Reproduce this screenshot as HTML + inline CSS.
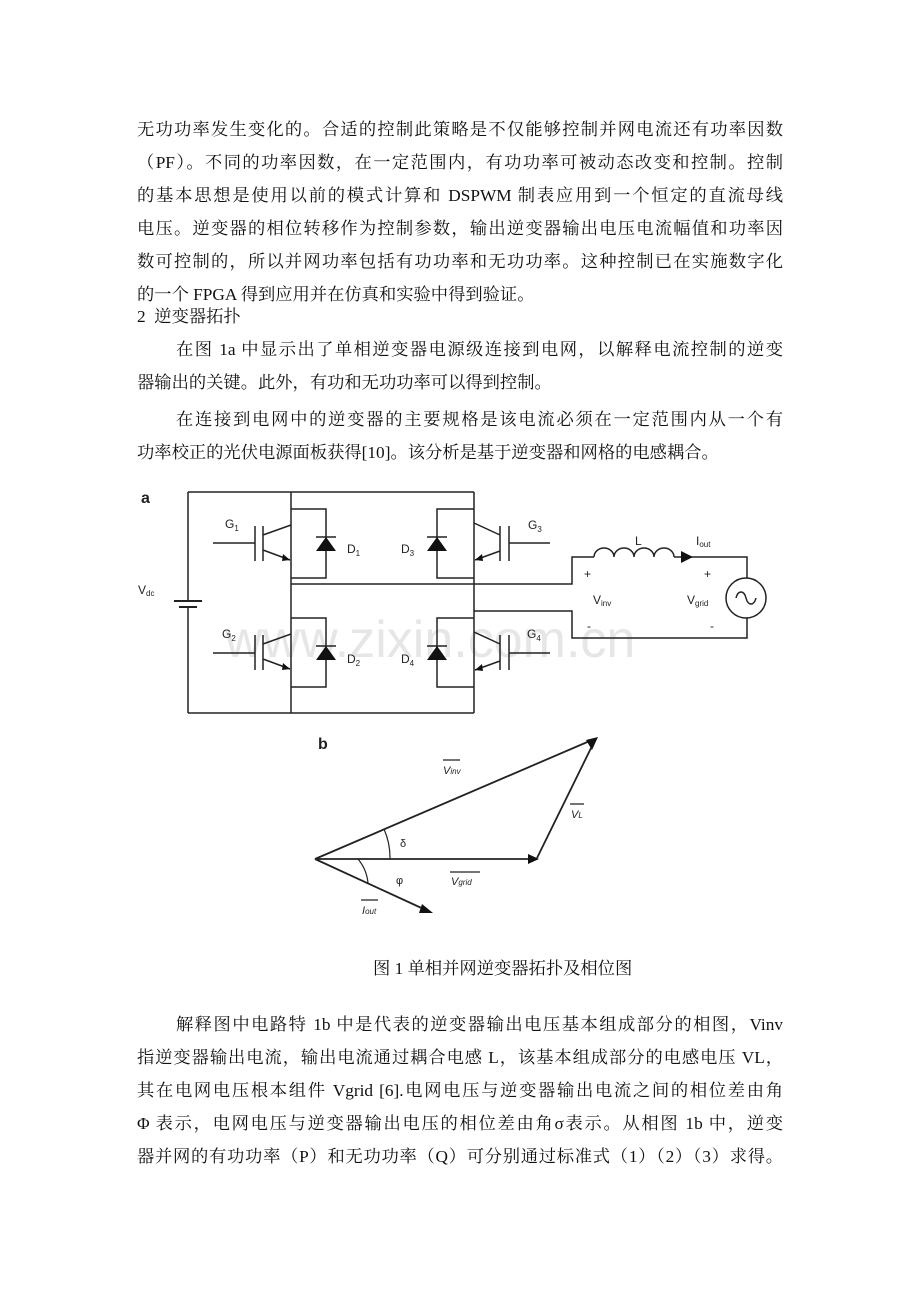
<!DOCTYPE html>
<html><head><meta charset="utf-8"><style>
body{margin:0;background:#fff;}
#p{position:relative;width:920px;height:1302px;overflow:hidden;background:#fff;}
.t{position:absolute;font-family:"Liberation Serif","Noto Serif CJK SC",serif;font-size:17.3px;line-height:24px;height:24px;color:#111;white-space:nowrap;}
.j{text-align:justify;text-align-last:justify;white-space:normal;overflow:hidden;}
svg text{font-family:"Liberation Sans",Arial,sans-serif;}
</style></head><body><div id="p">
<div class="t j" style="left:137px;top:118px;width:646px">无功功率发生变化的。合适的控制此策略是不仅能够控制并网电流还有功率因数</div>
<div class="t j" style="left:137px;top:151px;width:646px">（PF）。不同的功率因数，在一定范围内，有功功率可被动态改变和控制。控制</div>
<div class="t j" style="left:137px;top:184px;width:646px">的基本思想是使用以前的模式计算和 DSPWM 制表应用到一个恒定的直流母线</div>
<div class="t j" style="left:137px;top:217px;width:646px">电压。逆变器的相位转移作为控制参数，输出逆变器输出电压电流幅值和功率因</div>
<div class="t j" style="left:137px;top:250px;width:646px">数可控制的，所以并网功率包括有功功率和无功功率。这种控制已在实施数字化</div>
<div class="t" style="left:137px;top:283px">的一个 FPGA 得到应用并在仿真和实验中得到验证。</div>
<div class="t" style="left:137px;top:305px">2 &nbsp;逆变器拓扑</div>
<div class="t j" style="left:176px;top:338px;width:607px">在图 1a 中显示出了单相逆变器电源级连接到电网，以解释电流控制的逆变</div>
<div class="t" style="left:137px;top:371px">器输出的关键。此外，有功和无功功率可以得到控制。</div>
<div class="t j" style="left:176px;top:408px;width:607px">在连接到电网中的逆变器的主要规格是该电流必须在一定范围内从一个有</div>
<div class="t" style="left:137px;top:441px">功率校正的光伏电源面板获得[10]。该分析是基于逆变器和网格的电感耦合。</div>

<svg style="position:absolute;left:0;top:0" width="920" height="960" viewBox="0 0 920 960">
<text x="225" y="657" font-size="52" fill="#e6e6e6">www.zixin.com.cn</text>
<g stroke="#222" stroke-width="1.5" fill="none">
<path d="M188 492H474M188 713H474M188 492V601M188 607V713M291 492V713M474 492V713"/>
<path d="M174 601H202M179 607H197" stroke-width="2"/>
<path d="M291 584H572V557H594M674 557H747V578M747 618V638H572V611H474"/>
<path d="M594 557a10 9 0 0 1 20 0a10 9 0 0 1 20 0a10 9 0 0 1 20 0a10 9 0 0 1 20 0"/>
<circle cx="746" cy="598" r="20"/>
<path d="M736 598c2 -8 8 -8 10 0s8 8 10 0"/>
<path d="M291 509H326V578H291M291 618H326V687H291M474 509H437V578H474M474 618H437V687H474"/>
<path d="M213 543H255M255 526V561M263 526V561M263 535L291 525M263 550L290 560"/>
<path d="M213 653H255M255 635V670M263 635V670M263 644L291 634M263 659L290 669"/>
<path d="M550 543H509M509 526V561M500 526V561M500 535L474 523M500 551L475 560"/>
<path d="M550 653H509M509 635V670M500 635V670M500 644L474 632M500 661L475 670"/>
<path d="M316 537H336M427 537H447M316 646H336M427 646H447"/>
</g>
<g fill="#111">
<polygon points="326,537 316,551 336,551"/><polygon points="437,537 427,551 447,551"/>
<polygon points="326,646 316,660 336,660"/><polygon points="437,646 427,660 447,660"/>
<polygon points="290,560 283,554 282,561"/><polygon points="290,669 283,663 282,670"/>
<polygon points="475,560 482,554 483,561"/><polygon points="475,670 482,664 483,671"/>
<polygon points="693,557 681,551 681,563"/>
</g>
<g font-size="12" fill="#222">
<text x="141" y="503" font-size="16" font-weight="bold">a</text>
<text x="225" y="528">G<tspan font-size="8" dy="3">1</tspan></text>
<text x="347" y="553">D<tspan font-size="8" dy="3">1</tspan></text>
<text x="401" y="553">D<tspan font-size="8" dy="3">3</tspan></text>
<text x="528" y="529">G<tspan font-size="8" dy="3">3</tspan></text>
<text x="635" y="545">L</text>
<text x="696" y="545">I<tspan font-size="8" dy="2">out</tspan></text>
<text x="584" y="578">+</text><text x="704" y="578">+</text>
<text x="593" y="604">V<tspan font-size="8" dy="2">inv</tspan></text>
<text x="687" y="604">V<tspan font-size="8" dy="2">grid</tspan></text>
<text x="587" y="630">-</text><text x="710" y="630">-</text>
<text x="138" y="594">V<tspan font-size="8" dy="2">dc</tspan></text>
<text x="222" y="638">G<tspan font-size="8" dy="3">2</tspan></text>
<text x="347" y="663">D<tspan font-size="8" dy="3">2</tspan></text>
<text x="401" y="663">D<tspan font-size="8" dy="3">4</tspan></text>
<text x="527" y="638">G<tspan font-size="8" dy="3">4</tspan></text>
</g>
<g stroke="#222" stroke-width="1.8" fill="none">
<path d="M315 859L592 740M315 859H532M537 858L594 742M315 859L428 911"/>
<path d="M384 829A72 72 0 0 1 390 859M358 859A44 44 0 0 1 368 883" stroke-width="1.2"/>
<path d="M443 760H460M570 804H584M450 872H480M361 900H378" stroke-width="1.2"/>
</g>
<g fill="#111">
<polygon points="598,737 586,740 592,750"/>
<polygon points="539,859 528,854 528,864"/>
<polygon points="433,913 422,904 419,913"/>
</g>
<g font-size="11" font-style="italic" fill="#222">
<text x="318" y="749" font-size="16" font-weight="bold" font-style="normal">b</text>
<text x="443" y="774">V<tspan font-size="8">inv</tspan></text>
<text x="571" y="818">V<tspan font-size="8">L</tspan></text>
<text x="400" y="847" font-style="normal">δ</text>
<text x="396" y="884" font-style="normal">φ</text>
<text x="451" y="885">V<tspan font-size="8">grid</tspan></text>
<text x="362" y="914">I<tspan font-size="8">out</tspan></text>
</g>
</svg>

<div class="t" style="left:373px;top:957px">图 1 单相并网逆变器拓扑及相位图</div>
<div class="t j" style="left:176px;top:1013px;width:607px">解释图中电路特 1b 中是代表的逆变器输出电压基本组成部分的相图，Vinv</div>
<div class="t j" style="left:137px;top:1046px;width:646px">指逆变器输出电流，输出电流通过耦合电感 L，该基本组成部分的电感电压 VL，</div>
<div class="t j" style="left:137px;top:1079px;width:646px">其在电网电压根本组件 Vgrid [6].电网电压与逆变器输出电流之间的相位差由角</div>
<div class="t j" style="left:137px;top:1112px;width:646px">Φ 表示，电网电压与逆变器输出电压的相位差由角σ表示。从相图 1b 中，逆变</div>
<div class="t j" style="left:137px;top:1145px;width:646px">器并网的有功功率（P）和无功功率（Q）可分别通过标准式（1）（2）（3）求得。</div>
</div></body></html>
